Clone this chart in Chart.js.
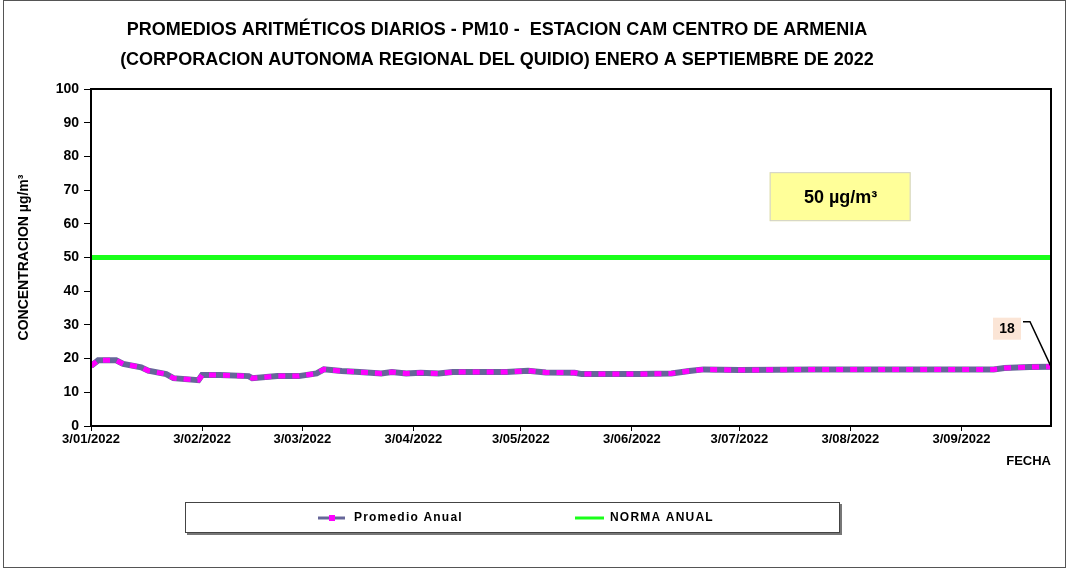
<!DOCTYPE html>
<html>
<head>
<meta charset="utf-8">
<script src="https://cdn.jsdelivr.net/npm/chart.js@4.4.1/dist/chart.umd.min.js"></script>
<style>
  html, body { margin: 0; padding: 0; background: #fff; }
  #wrap { width: 1069px; height: 571px; }
</style>
</head>
<body>
<div id="wrap"><canvas id="pm10-chart" width="1069" height="571"></canvas></div>
<script>
const titleLines = [
  'PROMEDIOS ARITMÉTICOS DIARIOS - PM10 -  ESTACION CAM CENTRO DE ARMENIA',
  '(CORPORACION AUTONOMA REGIONAL DEL QUIDIO) ENERO A SEPTIEMBRE DE 2022',
];

// day index counted from 3/01/2022
const monthTicks = [0, 31, 59, 90, 120, 151, 181, 212, 243];
const monthLabels = ['3/01/2022', '3/02/2022', '3/03/2022', '3/04/2022', '3/05/2022', '3/06/2022', '3/07/2022', '3/08/2022', '3/09/2022'];
const lastDay = 268;

const sampleDays = [0, 2, 7, 9, 14, 16, 21, 23, 30, 31, 36, 44, 45, 52, 58, 63, 65, 70, 75, 81, 84, 88, 92, 97, 101, 116, 122, 127, 135, 137, 153, 162, 167, 171, 181, 202, 252, 255, 262, 268];
const sampleValues = [17.8, 19.5, 19.5, 18.4, 17.4, 16.4, 15.4, 14.2, 13.6, 15.1, 15.1, 14.8, 14.2, 14.8, 14.8, 15.6, 16.8, 16.3, 16.0, 15.6, 16.0, 15.6, 15.8, 15.6, 16.0, 16.0, 16.4, 15.9, 15.8, 15.4, 15.4, 15.6, 16.3, 16.8, 16.6, 16.8, 16.8, 17.2, 17.5, 17.6];

const normaValue = 50;
const normaLabel = '50 µg/m³';

const GRAY = '#666699';
const MAGENTA = '#ff00ff';
const GREEN = '#1aff1a';
const FONT = '"Liberation Sans", Arial, sans-serif';

const promedioPoints = sampleDays.map((d, i) => ({ x: d, y: sampleValues[i] }));
const normaPoints = [{ x: 0, y: normaValue }, { x: lastDay, y: normaValue }];

const chartDecor = {
  id: 'chartDecor',
  beforeDraw(chart) {
    const { ctx } = chart;
    ctx.save();
    ctx.fillStyle = '#fff';
    ctx.fillRect(0, 0, chart.width, chart.height);
    ctx.restore();
  },
  afterDraw(chart) {
    const { ctx, chartArea } = chart;
    const xs = chart.scales.x;
    const ys = chart.scales.y;
    ctx.save();

    // outer frame
    ctx.strokeStyle = '#555';
    ctx.lineWidth = 1;
    ctx.strokeRect(3.5, 0.5, 1062, 567);

    // plot frame
    ctx.strokeStyle = '#000';
    ctx.lineWidth = 2;
    ctx.strokeRect(chartArea.left, chartArea.top, chartArea.right - chartArea.left, chartArea.bottom - chartArea.top);

    // headline
    ctx.fillStyle = '#000';
    ctx.font = 'bold 18px ' + FONT;
    ctx.textAlign = 'center';
    ctx.textBaseline = 'middle';
    titleLines.forEach((line, i) => ctx.fillText(line, 497, 30 + i * 30));

    // norma label box
    const bx = xs.getPixelForValue(209);
    const by = ys.getPixelForValue(68.2);
    ctx.fillStyle = '#ffff99';
    ctx.fillRect(bx - 70, by - 24, 141, 49);
    ctx.strokeStyle = '#d0d0d0';
    ctx.lineWidth = 1;
    ctx.strokeRect(bx - 69.5, by - 23.5, 140, 48);
    ctx.fillStyle = '#000';
    ctx.font = 'bold 18px ' + FONT;
    ctx.fillText(normaLabel, bx + 1, by + 2);

    // last value callout
    const lx = xs.getPixelForValue(sampleDays[sampleDays.length - 1]);
    const ly = ys.getPixelForValue(sampleValues[sampleValues.length - 1]);
    ctx.strokeStyle = '#000';
    ctx.lineWidth = 1.5;
    ctx.beginPath();
    ctx.moveTo(lx - 28, ly - 45);
    ctx.lineTo(lx - 21, ly - 45);
    ctx.lineTo(lx, ly);
    ctx.stroke();
    ctx.fillStyle = '#fbe5d6';
    ctx.fillRect(lx - 58, ly - 49, 28, 22);
    ctx.fillStyle = '#000';
    ctx.font = 'bold 14px ' + FONT;
    ctx.fillText(String(Math.round(sampleValues[sampleValues.length - 1])), lx - 44, ly - 38);

    // legend box
    ctx.fillStyle = '#777';
    ctx.fillRect(187, 504, 655, 31);
    ctx.fillStyle = '#fff';
    ctx.fillRect(185, 502, 655, 31);
    ctx.strokeStyle = '#444';
    ctx.lineWidth = 1;
    ctx.strokeRect(185.5, 502.5, 654, 30);

    ctx.lineWidth = 3;
    ctx.strokeStyle = GRAY;
    ctx.beginPath();
    ctx.moveTo(318, 518);
    ctx.lineTo(345, 518);
    ctx.stroke();
    ctx.fillStyle = MAGENTA;
    ctx.fillRect(329, 515, 6, 6);

    ctx.strokeStyle = GREEN;
    ctx.beginPath();
    ctx.moveTo(575, 518);
    ctx.lineTo(604, 518);
    ctx.stroke();

    ctx.fillStyle = '#000';
    ctx.font = 'bold 12px ' + FONT;
    ctx.letterSpacing = '1.2px';
    ctx.textAlign = 'left';
    ctx.fillText('Promedio Anual', 354, 518);
    ctx.fillText('NORMA ANUAL', 610, 518);

    ctx.restore();
  },
};

new Chart(document.getElementById('pm10-chart'), {
  type: 'line',
  data: {
    datasets: [
      {
        label: 'Promedio Anual',
        data: promedioPoints,
        borderColor: MAGENTA,
        borderWidth: 5,
        borderDash: [7, 7],
        pointRadius: 0,
        order: 0,
      },
      {
        label: 'Promedio Anual base',
        data: promedioPoints,
        borderColor: GRAY,
        borderWidth: 6,
        pointRadius: 0,
        order: 1,
      },
      {
        label: 'NORMA ANUAL',
        data: normaPoints,
        borderColor: GREEN,
        borderWidth: 5,
        pointRadius: 0,
        order: 2,
      },
    ],
  },
  options: {
    responsive: false,
    animation: false,
    devicePixelRatio: 1,
    layout: { padding: { left: 12, right: 18, top: 89, bottom: 100 } },
    plugins: {
      legend: { display: false },
      tooltip: { enabled: false },
    },
    scales: {
      x: {
        type: 'linear',
        min: 0,
        max: lastDay,
        afterBuildTicks(scale) {
          scale.ticks = monthTicks.map((v) => ({ value: v }));
        },
        afterFit(scale) {
          scale.height = 45;
        },
        ticks: {
          autoSkip: false,
          maxRotation: 0,
          padding: 1,
          color: '#000',
          font: { family: FONT, size: 13, weight: 'bold' },
          callback(value, index) {
            return monthLabels[index];
          },
        },
        grid: { drawOnChartArea: false, tickLength: 5, color: '#000' },
        border: { color: '#000', width: 2 },
        title: {
          display: true,
          text: 'FECHA',
          align: 'end',
          color: '#000',
          padding: { top: 0, bottom: 2 },
          font: { family: FONT, size: 13, weight: 'bold' },
        },
      },
      y: {
        min: 0,
        max: 100,
        afterFit(scale) {
          scale.width = 79;
        },
        ticks: {
          stepSize: 10,
          padding: 5,
          color: '#000',
          font: { family: FONT, size: 14, weight: 'bold' },
        },
        grid: { drawOnChartArea: false, tickLength: 7, color: '#000' },
        border: { color: '#000', width: 2 },
        title: {
          display: true,
          text: 'CONCENTRACION µg/m³',
          color: '#000',
          padding: { top: 4, bottom: 0 },
          font: { family: FONT, size: 14, weight: 'bold' },
        },
      },
    },
  },
  plugins: [chartDecor],
});
</script>
</body>
</html>
